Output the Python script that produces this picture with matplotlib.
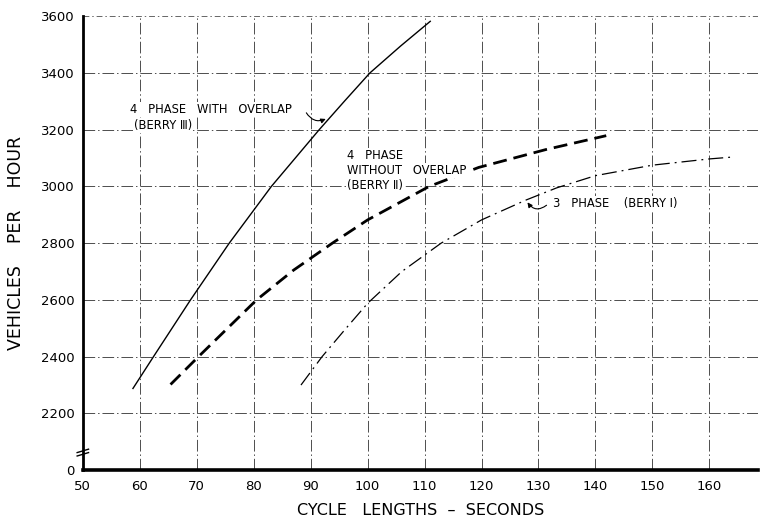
import matplotlib.pyplot as plt
from matplotlib.lines import Line2D

# values (y is vehicles per hour; axis is broken below 2200)
with_overlap_x = [58.8, 62.4, 68.9, 75.7, 83.1, 91.5, 96.0, 100.4, 105.8, 111.0]
with_overlap_y = [2288, 2400, 2600, 2800, 3000, 3200, 3302, 3400, 3495, 3582]

without_overlap_x = [65.4, 70.3, 80.5, 87.0, 93.8, 100.0, 110.8, 119.5, 131.3, 141.9]
without_overlap_y = [2302, 2400, 2600, 2705, 2800, 2882, 3000, 3067, 3130, 3179]

three_phase_x = [88.3, 92.0, 96.0, 100.0, 106.0, 112.9, 120.0, 127.8, 133.2, 140.0, 150.0, 160.0, 163.7]
three_phase_y = [2300, 2400, 2495, 2588, 2700, 2800, 2882, 2952, 2995, 3038, 3075, 3097, 3103]

x_ticks = [50, 60, 70, 80, 90, 100, 110, 120, 130, 140, 150, 160]
y_ticks = [2000, 2200, 2400, 2600, 2800, 3000, 3200, 3400, 3600]
y_tick_labels = ['0', '2200', '2400', '2600', '2800', '3000', '3200', '3400', '3600']

plt.rcParams['font.family'] = ['DejaVu Sans']

fig = plt.figure(figsize=(7.6, 5.23), dpi=100)
ax = fig.add_axes([0.109, 0.101, 0.888, 0.868])

ax.set_xlim(50, 168.5)
ax.set_ylim(2000, 3600)

# grid drawn as broken dash-dot lines like the original drafting paper
grid_style = dict(color='0.3', lw=0.7, ls=(0, (12, 3, 1.5, 3)), zorder=1)
for gx in x_ticks[1:]:
    ax.axvline(gx, **grid_style)
for gy in y_ticks[1:-1]:
    ax.axhline(gy, **grid_style)
ax.axhline(3600, color='0.4', lw=0.7, ls=(0, (6, 3, 1.5, 3)), zorder=1)

ax.plot(with_overlap_x, with_overlap_y, color='black', lw=1.0, zorder=3)
ax.plot(without_overlap_x, without_overlap_y, color='black', lw=2.0,
        ls=(0, (5, 2.5)), zorder=3)
ax.plot(three_phase_x, three_phase_y, color='black', lw=0.9,
        ls=(0, (12, 4, 1.5, 4)), zorder=3)

# spines
for side in ['top', 'right']:
    ax.spines[side].set_visible(False)
ax.spines['left'].set_linewidth(2.0)
ax.spines['bottom'].set_linewidth(2.6)

ax.set_xticks(x_ticks)
ax.set_yticks(y_ticks)
ax.set_yticklabels(y_tick_labels)
ax.tick_params(axis='both', length=0, labelsize=9.5)
ax.tick_params(axis='x', pad=7)
ax.tick_params(axis='y', pad=6)

# axis break mark on the left spine
for dy in (0, 12):
    ax.add_line(Line2D([49.0, 51.0], [2050 + dy, 2062 + dy], color='black',
                       lw=1.0, clip_on=False, zorder=5))

ax.set_ylabel('VEHICLES    PER    HOUR', fontsize=12.5, labelpad=11)
ax.set_xlabel('CYCLE   LENGTHS  –  SECONDS', fontsize=11.5, labelpad=7)

# curve labels with leaders
box = dict(facecolor='white', edgecolor='none', pad=0.8)
lab = dict(fontsize=8.3, color='black', ha='left', va='center', bbox=box, zorder=4)
arrow = dict(arrowstyle='-|>', color='black', lw=0.8, mutation_scale=7)

ax.text(58.2, 3272, '4   PHASE   WITH   OVERLAP', **lab)
ax.text(59.0, 3216, '(BERRY Ⅲ)', **lab)
ax.annotate('', xy=(93.1, 3242), xytext=(89.0, 3268),
            arrowprops=dict(arrow, connectionstyle='arc3,rad=0.5'))

ax.text(96.4, 3110, '4   PHASE', **lab)
ax.text(96.4, 3057, 'WITHOUT   OVERLAP', **lab)
ax.text(96.4, 3004, '(BERRY Ⅱ)', **lab)
ax.annotate('', xy=(118.1, 3060), xytext=(115.6, 3078),
            arrowprops=dict(arrow, connectionstyle='arc3,rad=0.6'))

ax.text(132.6, 2940, '3   PHASE    (BERRY I)', **lab)
ax.annotate('', xy=(127.8, 2952), xytext=(131.8, 2940),
            arrowprops=dict(arrow, connectionstyle='arc3,rad=-0.6'))

fig.savefig('out.png', dpi=100)
